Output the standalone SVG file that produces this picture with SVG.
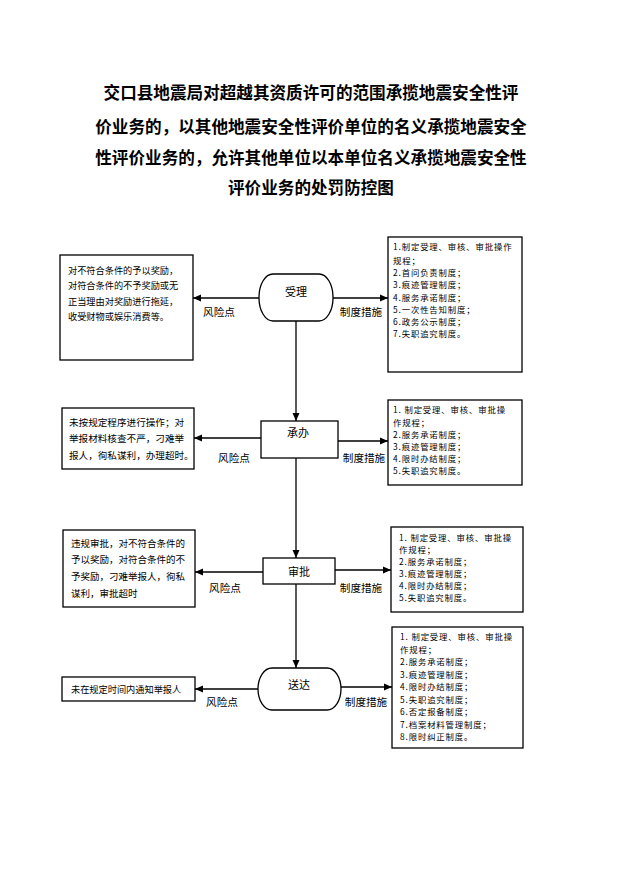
<svg xmlns="http://www.w3.org/2000/svg" width="621" height="878" viewBox="0 0 621 878">
<defs>
<marker id="arr" markerUnits="userSpaceOnUse" markerWidth="8" markerHeight="8" refX="8" refY="4" orient="auto">
<path d="M0,0.5 L8,4 L0,7.5 z" fill="#000"/>
</marker>
<style>
.t{font-family:"Noto Sans CJK SC","Liberation Sans",sans-serif;fill:#000}
.title{font-size:16.6px;font-weight:bold;text-anchor:middle}
.bx{fill:#fff;stroke:#000;stroke-width:1.3}
.bt{font-size:9.2px}
.mt{font-size:8.4px;letter-spacing:0.85px}
.lb{font-size:10.6px;text-anchor:middle}
.nt{font-size:11px;text-anchor:middle}
.ln{fill:none;stroke:#000;stroke-width:1.3}
.la{fill:none;stroke:#000;stroke-width:1.3;marker-end:url(#arr)}
</style>
</defs>
<rect width="621" height="878" fill="#fff"/>
<g id="title" class="t title">
<text x="311" y="99">交口县地震局对超越其资质许可的范围承揽地震安全性评</text>
<text x="311" y="133">价业务的，以其他地震安全性评价单位的名义承揽地震安全</text>
<text x="311" y="164">性评价业务的，允许其他单位以本单位名义承揽地震安全性</text>
<text x="311" y="194">评价业务的处罚防控图</text>
</g>
<g id="connectors">
<path class="la" d="M296,321 V421"/>
<path class="la" d="M296,458 V558"/>
<path class="la" d="M296,584 V668"/>
<path class="la" d="M259,298 H193"/>
<path class="la" d="M333,298 H388"/>
<path class="la" d="M261,438 H194"/>
<path class="la" d="M338,441 H388"/>
<path class="la" d="M263,572 H195"/>
<path class="la" d="M335,570 H391"/>
<path class="la" d="M258,689 H195"/>
<path class="la" d="M341,687 H392"/>
<g class="t lb">
<text x="219" y="316">风险点</text>
<text x="361" y="316">制度措施</text>
<text x="234" y="462">风险点</text>
<text x="364" y="462">制度措施</text>
<text x="225" y="592">风险点</text>
<text x="361" y="592">制度措施</text>
<text x="222" y="706">风险点</text>
<text x="366" y="706">制度措施</text>
</g>
</g>
<g id="node-shouli">
<rect class="bx" x="259" y="274" width="74" height="47" rx="14" ry="23"/>
<text class="t nt" x="296" y="296">受理</text>
</g>
<g id="node-chengban">
<rect class="bx" x="261" y="421" width="77" height="37"/>
<text class="t nt" x="298" y="437">承办</text>
</g>
<g id="node-shenpi">
<rect class="bx" x="263" y="558" width="72" height="26"/>
<text class="t nt" x="299" y="576">审批</text>
</g>
<g id="node-songda">
<rect class="bx" x="258" y="668" width="83" height="42" rx="14" ry="21"/>
<text class="t nt" x="299" y="689">送达</text>
</g>
<g id="risk-1">
<rect class="bx" x="60" y="255" width="133" height="105"/>
<g class="t bt">
<text x="68" y="273.5">对不符合条件的予以奖励，</text>
<text x="68" y="289">对符合条件的不予奖励或无</text>
<text x="68" y="304.5">正当理由对奖励进行拖延，</text>
<text x="68" y="320">收受财物或娱乐消费等。</text>
</g>
</g>
<g id="measure-1">
<rect class="bx" x="388" y="237" width="134" height="135"/>
<g class="t mt">
<text x="393" y="250">1.制定受理、审核、审批操作</text>
<text x="393" y="263.5">规程；</text>
<text x="393" y="276">2.首问负责制度；</text>
<text x="393" y="288">3.痕迹管理制度；</text>
<text x="393" y="300.5">4.服务承诺制度；</text>
<text x="393" y="313">5.一次性告知制度；</text>
<text x="393" y="325">6.政务公示制度；</text>
<text x="393" y="337">7.失职追究制度。</text>
</g>
</g>
<g id="risk-2">
<rect class="bx" x="62" y="408" width="132" height="61"/>
<g class="t bt" style="font-size:9.6px">
<text x="69" y="425.5">未按规定程序进行操作；对</text>
<text x="69" y="441.5">举报材料核查不严，刁难举</text>
<text x="69" y="458.5">报人，徇私谋利，办理超时。</text>
</g>
</g>
<g id="measure-2">
<rect class="bx" x="388" y="400" width="134" height="85"/>
<g class="t mt">
<text x="393" y="413">1. 制定受理、审核、审批操</text>
<text x="393" y="426">作规程；</text>
<text x="393" y="438">2.服务承诺制度；</text>
<text x="393" y="450">3.痕迹管理制度；</text>
<text x="393" y="462">4.限时办结制度；</text>
<text x="393" y="474">5.失职追究制度。</text>
</g>
</g>
<g id="risk-3">
<rect class="bx" x="63" y="530" width="132" height="77"/>
<g class="t bt" style="font-size:9.5px">
<text x="71" y="546.5">违规审批，对不符合条件的</text>
<text x="71" y="562.5">予以奖励，对符合条件的不</text>
<text x="71" y="579.5">予奖励，刁难举报人，徇私</text>
<text x="71" y="596.5">谋利，审批超时</text>
</g>
</g>
<g id="measure-3">
<rect class="bx" x="391" y="527" width="132" height="85"/>
<g class="t mt">
<text x="399" y="541">1. 制定受理、审核、审批操</text>
<text x="399" y="553">作规程；</text>
<text x="399" y="565">2.服务承诺制度；</text>
<text x="399" y="577">3.痕迹管理制度；</text>
<text x="399" y="589">4.限时办结制度；</text>
<text x="399" y="601">5.失职追究制度。</text>
</g>
</g>
<g id="risk-4">
<rect class="bx" x="62" y="677" width="133" height="24"/>
<text class="t bt" x="71" y="692.5">未在规定时间内通知举报人</text>
</g>
<g id="measure-4">
<rect class="bx" x="392" y="627" width="131" height="121"/>
<g class="t mt">
<text x="400" y="640">1. 制定受理、审核、审批操</text>
<text x="400" y="652.5">作规程；</text>
<text x="400" y="665">2.服务承诺制度；</text>
<text x="400" y="677.5">3.痕迹管理制度；</text>
<text x="400" y="690">4.限时办结制度；</text>
<text x="400" y="702.5">5.失职追究制度；</text>
<text x="400" y="715">6.否定报备制度；</text>
<text x="400" y="727.5">7.档案材料管理制度；</text>
<text x="400" y="740">8.限时纠正制度。</text>
</g>
</g>
</svg>
